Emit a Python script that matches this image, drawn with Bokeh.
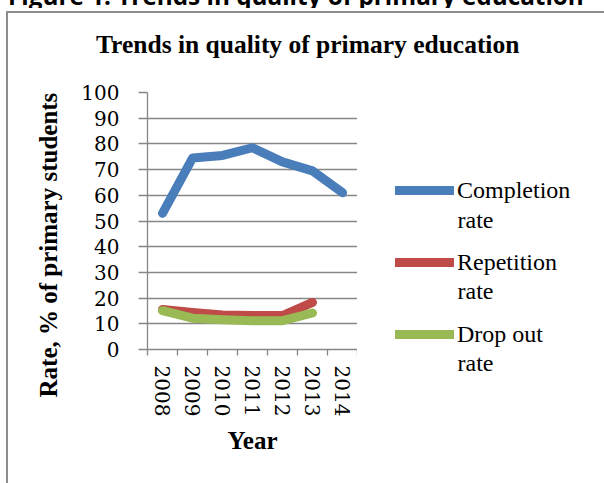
from bokeh.plotting import figure
from bokeh.layouts import column, row
from bokeh.models import (FixedTicker, Label, Legend, LegendItem, Range1d, Title, Div)
from bokeh.embed import file_html
from bokeh.resources import INLINE

# ---------------- data ----------------
years = ["2008", "2009", "2010", "2011", "2012", "2013", "2014"]
completion = [53.0, 74.5, 75.5, 78.5, 73.0, 69.5, 61.0]
repetition = [15.6, 14.4, 13.4, 13.2, 13.2, 18.3]
dropout = [15.1, 12.2, 11.6, 11.2, 11.2, 14.2]
y_ticks = [0, 10, 20, 30, 40, 50, 60, 70, 80, 90, 100]

heading_text = "Figure 1: Trends in quality of primary education"
title_text = "Trends in quality of primary education"
y_label = "Rate, % of primary students"
x_label = "Year"
series_names = ["Completion", "Repetition", "Drop out"]
series_second_line = "rate"

# ---------------- style / layout constants ----------------
SERIF = "Liberation Serif"
NUM = "DejaVu Serif"
GRAY = "#868686"
BORDER = "#8c8c8c"
BLUE = "#4a7ebb"
RED = "#be4b48"
GREEN = "#98b954"
COLORS = [BLUE, RED, GREEN]

W, HTOT = 604, 483
HEAD_H = 8            # cut-off heading strip
TITLE_H = 52          # title strip
TOP = HEAD_H + TITLE_H
H = HTOT - TOP        # height of the two figures
MAIN_W = 357          # plot figure width (frame right edge)
LEG_W = W - MAIN_W
FL = 147              # frame left
FT = 92 - TOP         # frame top in figure coords
FB = 349              # frame bottom (page coords)
MB = HTOT - FB

xs_all = [i + 0.5 for i in range(len(years))]
n = len(years)

# ---------------- main plot ----------------
p = figure(width=MAIN_W, height=H, output_backend="svg", toolbar_location=None, title=None,
           x_range=Range1d(0, n), y_range=Range1d(0, 100),
           min_border_left=FL, min_border_right=0,
           min_border_top=FT, min_border_bottom=MB)
p.outline_line_color = None
p.background_fill_color = None
p.border_fill_color = None

p.xgrid.grid_line_color = None
p.ygrid.ticker = FixedTicker(ticks=y_ticks)
p.ygrid.grid_line_color = GRAY
p.ygrid.grid_line_width = 1.3

xa = p.xaxis[0]
xa.ticker = FixedTicker(ticks=xs_all, minor_ticks=list(range(n + 1)))
xa.major_label_overrides = {x: y for x, y in zip(xs_all, years)}
xa.major_tick_out = 0
xa.major_tick_in = 0
xa.minor_tick_out = 6
xa.minor_tick_in = 0
xa.minor_tick_line_color = GRAY
xa.minor_tick_line_width = 1.3
xa.axis_line_color = GRAY
xa.axis_line_width = 1.3
xa.major_label_orientation = "vertical"
xa.major_label_text_font = NUM
xa.major_label_text_font_size = "20px"
xa.major_label_text_color = "black"
xa.major_label_standoff = 10
xa.axis_label = x_label
xa.axis_label_text_font = SERIF
xa.axis_label_text_font_style = "bold"
xa.axis_label_text_font_size = "25px"
xa.axis_label_text_color = "black"
xa.axis_label_standoff = 8

ya = p.yaxis[0]
ya.ticker = FixedTicker(ticks=y_ticks)
ya.major_tick_out = 9
ya.major_tick_in = 0
ya.minor_tick_line_color = None
ya.major_tick_line_color = GRAY
ya.major_tick_line_width = 1.3
ya.axis_line_color = GRAY
ya.axis_line_width = 1.3
ya.major_label_text_font = NUM
ya.major_label_text_font_size = "20px"
ya.major_label_text_color = "black"
ya.major_label_standoff = 19

# y axis title (side title so it can sit a little below centre)
p.add_layout(Title(text=y_label, align="left", offset=FB - 397, standoff=33,
                   text_font=SERIF, text_font_style="bold", text_font_size="25px",
                   text_color="black"), "left")

r_rep = p.line(xs_all[:len(repetition)], repetition, line_color=RED, line_width=9,
               line_cap="round", line_join="round")
r_drop = p.line(xs_all[:len(dropout)], dropout, line_color=GREEN, line_width=9,
                line_cap="round", line_join="round")
r_comp = p.line(xs_all, completion, line_color=BLUE, line_width=9,
                line_cap="round", line_join="round")

# ---------------- legend panel (frame aligned with the main plot: page y 92..349) ----------------
q = figure(width=LEG_W, height=H, output_backend="svg", toolbar_location=None, title=None,
           x_range=Range1d(0, 1), y_range=Range1d(0, 1),
           x_axis_location=None, y_axis_location=None,
           min_border_left=0, min_border_right=0, min_border_top=FT, min_border_bottom=MB)
q.outline_line_color = None
q.background_fill_color = None
q.border_fill_color = None
q.grid.visible = False

nan = float("nan")
legend_renderers = [q.line([nan], [nan], line_color=c, line_width=9, line_cap="round")
                    for c in COLORS]

ITEM_H = 28
legend = Legend(items=[LegendItem(label=name, renderers=[r])
                       for name, r in zip(series_names, legend_renderers)],
                location=(395 - MAIN_W, FB - (334 + ITEM_H // 2)),
                background_fill_alpha=0, border_line_color=None,
                padding=0, margin=0, spacing=44, label_standoff=3,
                glyph_width=59, glyph_height=ITEM_H, label_height=ITEM_H,
                label_text_font=SERIF, label_text_font_size="24px",
                label_text_color="black")
q.add_layout(legend, "center")

for mid in (219, 290.5):
    q.add_layout(Label(x=457 - MAIN_W, y=FB - mid, x_units="screen", y_units="screen",
                       text=series_second_line, text_align="left", text_baseline="middle",
                       text_font=SERIF, text_font_size="24px", text_color="black"))
# second line of the last legend entry falls just below the frame: side title
q.add_layout(Title(text=series_second_line, align="left", offset=457 - MAIN_W, standoff=0,
                   vertical_align="top", text_font=SERIF, text_font_style="normal",
                   text_font_size="24px", text_color="black"), "below")

# ---------------- heading and title strips ----------------
head = Div(text=('<div style="position:relative; top:-20px; left:8px; white-space:nowrap; '
                 'font-family:\'Open Sans\'; font-weight:bold; font-size:24.3px; '
                 'line-height:32px; color:black">' + heading_text + '</div>'),
           width=W, height=HEAD_H, styles={"overflow": "hidden", "margin": "0"})

title = Div(text=('<div style="position:relative; top:22px; left:96px; white-space:nowrap; '
                  'font-family:\'Liberation Serif\'; font-weight:bold; font-size:25.5px; '
                  'line-height:30px; color:black">' + title_text + '</div>'),
            width=W, height=TITLE_H, styles={"overflow": "hidden", "margin": "0"})

layout = column(head, title, row(p, q, spacing=0), spacing=0)
layout.styles = {"background": "linear-gradient(%s,%s) 6px 11px / 2px 600px no-repeat, "
                               "linear-gradient(%s,%s) 6px 11px / 700px 2px no-repeat, white"
                               % (BORDER, BORDER, BORDER, BORDER)}

open("out.html", "w").write(file_html(layout, INLINE))
